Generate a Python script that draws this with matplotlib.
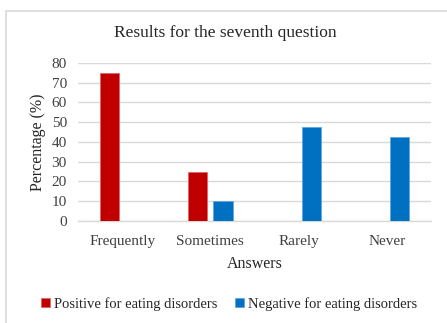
import numpy as np
import matplotlib
matplotlib.use("Agg")
from matplotlib import pyplot as plt
from matplotlib.patches import Rectangle

categories = ["Frequently", "Sometimes", "Rarely", "Never"]
positive = [75, 25, 0, 0]
negative = [0, 10, 47.5, 42.5]
series_names = ["Positive for eating disorders", "Negative for eating disorders"]
yticks = [0, 10, 20, 30, 40, 50, 60, 70, 80]

plt.rcParams['font.family'] = ['Liberation Serif', 'DejaVu Serif']

fig = plt.figure(figsize=(4.47, 3.23), dpi=100)
ax = fig.add_axes([0.1745, 0.316, 0.7895, 0.489])

# chart border
fig.patches.append(Rectangle((6 / 447, -0.01), 1.0, 1 - 11 / 323 + 0.01,
                             transform=fig.transFigure, fill=False,
                             edgecolor="#d9d9d9", linewidth=1.2))

x = np.arange(len(categories))
w = 0.22
off = 0.145
ax.bar(x - off, positive, w, color="#C00000", edgecolor="#e06666", linewidth=0.6,
       label=series_names[0], zorder=3)
ax.bar(x + off, negative, w, color="#0070C0", edgecolor="#5fa8e0", linewidth=0.6,
       label=series_names[1], zorder=3)

ax.set_xlim(-0.5, len(categories) - 0.5)
ax.set_ylim(0, 80)
ax.set_yticks(yticks)
ax.set_xticks(x)
ax.set_xticklabels(categories)
ax.tick_params(axis="both", length=0, labelsize=11, colors="#404040")
ax.tick_params(axis="x", pad=10)
ax.tick_params(axis="y", pad=8)
ax.grid(axis="y", color="#d9d9d9", linewidth=1.0, zorder=0)
for s in ["top", "right", "left"]:
    ax.spines[s].set_visible(False)
ax.spines["bottom"].set_color("#d9d9d9")
ax.spines["bottom"].set_linewidth(1.0)

ax.set_xlabel("Answers", fontsize=11.5, color="#262626", labelpad=6)
ax.set_ylabel("Percentage (%)", fontsize=11.5, color="#262626", labelpad=4)
fig.text(0.5 + 0.005, 1 - 33 / 323, "Results for the seventh question",
         ha="center", va="center", fontsize=12.5, color="#262626")

handles, labels = ax.get_legend_handles_labels()
fig.legend(handles, labels, loc="center", bbox_to_anchor=(229 / 447, 1 - 304 / 323),
           ncol=2, frameon=False, fontsize=10.5, handlelength=0.6, handleheight=0.6,
           handletextpad=0.3, columnspacing=1.2, labelcolor="#262626")

fig.savefig("out.png", dpi=100)
